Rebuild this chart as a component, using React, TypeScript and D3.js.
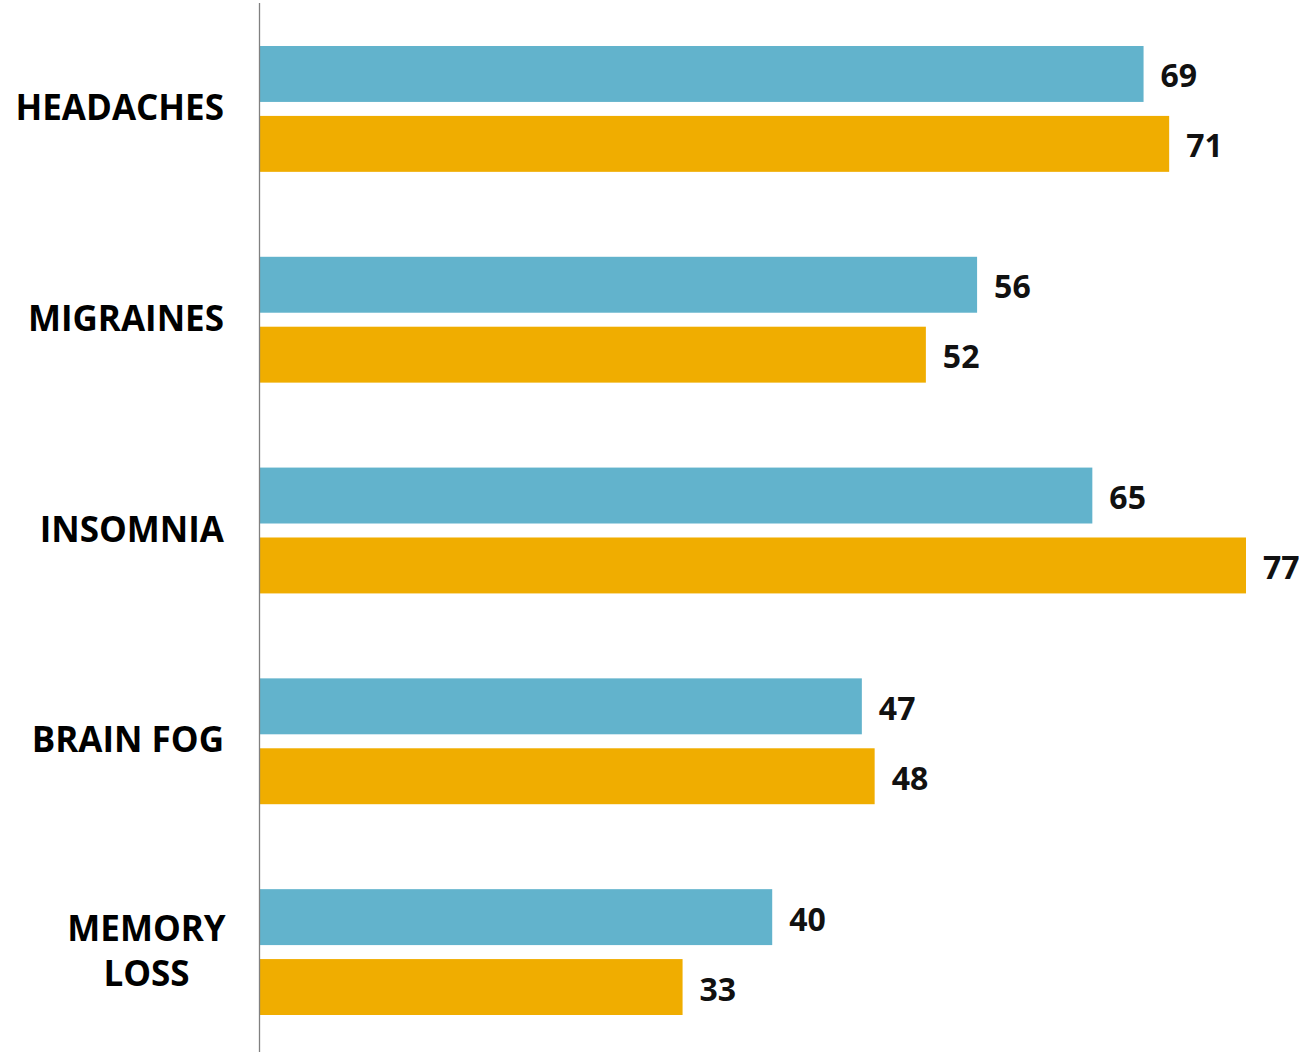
import React from "react";
import * as d3 from "d3";

const categories = ["HEADACHES", "MIGRAINES", "INSOMNIA", "BRAIN FOG", "MEMORY LOSS"];
const categoryLines = [["HEADACHES"], ["MIGRAINES"], ["INSOMNIA"], ["BRAIN FOG"], ["MEMORY", "LOSS"]];
const seriesNames = ["Series A", "Series B"];
const seriesA = [69, 56, 65, 47, 40];
const seriesB = [71, 52, 77, 48, 33];
const colors = ["#62B3CC", "#F0AD00"];

const W = 1299;
const H = 1052;

export default function App() {
  const y = d3.scaleBand<string>().domain(categories).range([46, 1015]).paddingInner(0.403).paddingOuter(0);
  const ySub = d3.scaleBand<string>().domain(seriesNames).range([0, y.bandwidth()]).paddingInner(0.2);
  const x = d3.scaleLinear().domain([0, 77]).range([260, 1246]);
  const values = [seriesA, seriesB];
  const font = "'Open Sans', 'DejaVu Sans', sans-serif";

  return (
    <svg width={W} height={H} style={{ position: "absolute", left: 0, top: 0, background: "#fff" }}>
      {categories.map((c, i) => (
        <g key={c}>
          {seriesNames.map((s, j) => {
            const v = values[j][i];
            const y0 = (y(c) ?? 0) + (ySub(s) ?? 0);
            return (
              <g key={s}>
                <rect x={x(0)} y={y0} width={x(v) - x(0)} height={ySub.bandwidth()} fill={colors[j]} />
                <text
                  x={x(v) + 17}
                  y={y0 + ySub.bandwidth() / 2 + 2}
                  dy="0.36em"
                  fontFamily={font}
                  fontWeight={700}
                  fontSize={32}
                  fill="#111"
                >
                  {v}
                </text>
              </g>
            );
          })}
          {(() => {
            const lines = categoryLines[i];
            const cy = (y(c) ?? 0) + y.bandwidth() / 2 - 1.5;
            const lh = 45;
            if (lines.length === 1) {
              return (
                <text x={224} y={cy} dy="0.36em" textAnchor="end" fontFamily={font} fontWeight={700} fontSize={35} fill="#000">
                  {lines[0]}
                </text>
              );
            }
            const cx = 146.5;
            return lines.map((l, k) => (
              <text
                key={l}
                x={cx}
                y={cy + (k - (lines.length - 1) / 2) * lh}
                dy="0.36em"
                textAnchor="middle"
                fontFamily={font}
                fontWeight={700}
                fontSize={35}
                fill="#000"
              >
                {l}
              </text>
            ));
          })()}
        </g>
      ))}
      <line x1={259.5} x2={259.5} y1={3} y2={H} stroke="#808080" strokeWidth={1.3} />
    </svg>
  );
}
